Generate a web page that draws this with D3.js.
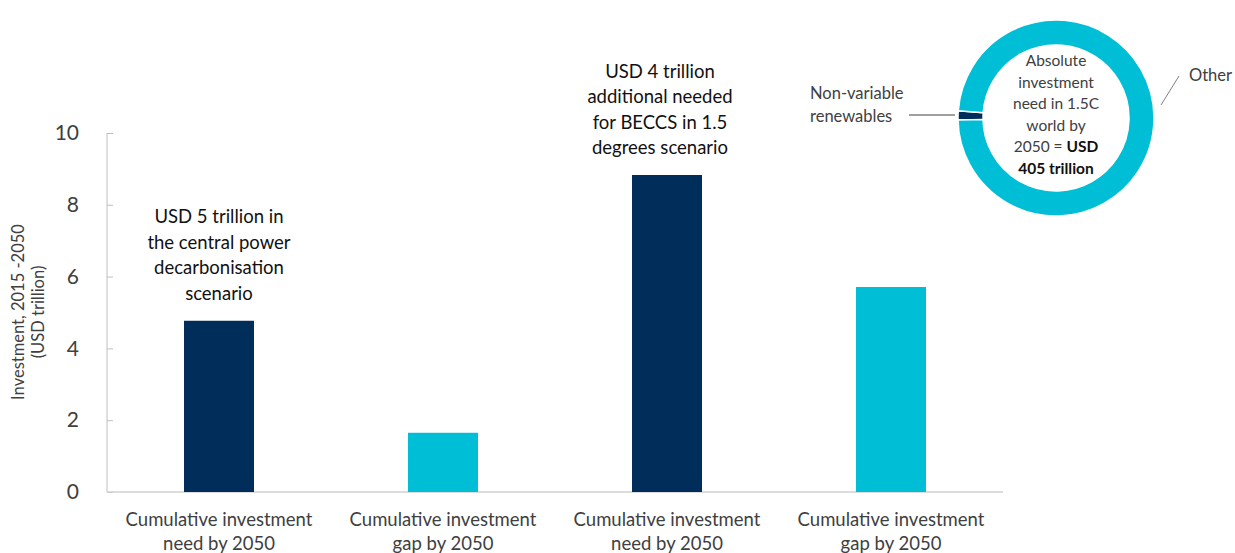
<!DOCTYPE html>
<html>
<head>
<meta charset="utf-8">
<script src="https://cdn.jsdelivr.net/npm/d3@7"></script>
<style>
  body { margin: 0; background: #fff; }
  text { font-family: Lato, "Liberation Sans", sans-serif; }
</style>
</head>
<body>
<svg id="chart" width="1235" height="553"></svg>
<script>
// ----- data -----
const categories = ["need1", "gap1", "need2", "gap2"];
const categoryLabels = [
  ["Cumulative investment", "need by 2050"],
  ["Cumulative investment", "gap by 2050"],
  ["Cumulative investment", "need by 2050"],
  ["Cumulative investment", "gap by 2050"]
];
const values = [4.77, 1.65, 8.83, 5.71];
const barColors = ["#002d5a", "#00bed6", "#002d5a", "#00bed6"];
const yTicks = [0, 2, 4, 6, 8, 10];

const annotations = [
  { cat: "need1", dx: 0, lines: ["USD 5 trillion in", "the central power", "decarbonisation", "scenario"] },
  { cat: "need2", dx: -7, lines: ["USD 4 trillion", "additional needed", "for BECCS in 1.5", "degrees scenario"] }
];

const pieNames = ["Non-variable renewables", "Other"];
const pieValues = [6, 399];
const pieColors = ["#002d5a", "#00bed6"];

const svg = d3.select("#chart");
const margin = { top: 133, left: 107, right: 232, bottom: 61 };
const width = +svg.attr("width");
const height = +svg.attr("height");
const plotW = width - margin.left - margin.right;
const plotH = height - margin.top - margin.bottom;

const g = svg.append("g").attr("transform", `translate(${margin.left},${margin.top})`);

const x = d3.scaleBand().domain(categories).range([0, plotW]).paddingInner(0.6875).paddingOuter(0.34375);
const y = d3.scaleLinear().domain([0, 10]).range([plotH, 0]);

// y axis
const yAxis = g.append("g")
  .call(d3.axisLeft(y).tickValues(yTicks).tickSize(-6).tickPadding(28));
yAxis.select(".domain").attr("stroke", "#bfbfbf").attr("d", `M0,${plotH}V0`);
yAxis.selectAll(".tick line").attr("stroke", "#bfbfbf");
yAxis.selectAll(".tick text")
  .attr("fill", "#404040")
  .style("font-size", "21px")
  .attr("font-family", "Lato, sans-serif");

// x axis line
g.append("line")
  .attr("x1", 0).attr("x2", plotW)
  .attr("y1", y(0)).attr("y2", y(0))
  .attr("stroke", "#d0d0d0").attr("stroke-width", 1.5);

// bars
g.selectAll("rect.bar").data(values)
  .join("rect")
  .attr("class", "bar")
  .attr("x", (d, i) => x(categories[i]))
  .attr("y", d => y(d))
  .attr("width", x.bandwidth())
  .attr("height", d => y(0) - y(d))
  .attr("fill", (d, i) => barColors[i]);

// x labels
categoryLabels.forEach((lines, i) => {
  const cx = x(categories[i]) + x.bandwidth() / 2;
  lines.forEach((l, j) => {
    g.append("text")
      .attr("x", cx)
      .attr("y", plotH + 34 + j * 24)
      .attr("text-anchor", "middle")
      .attr("fill", "#404040")
      .style("font-size", "18.5px")
      .text(l);
  });
});

// annotations above bars
annotations.forEach(a => {
  const i = categories.indexOf(a.cat);
  const cx = x(a.cat) + x.bandwidth() / 2 + a.dx;
  const top = y(values[i]);
  const n = a.lines.length;
  a.lines.forEach((l, j) => {
    g.append("text")
      .attr("x", cx)
      .attr("y", top - 21 - (n - 1 - j) * 25.5)
      .attr("text-anchor", "middle")
      .attr("fill", "#111")
      .style("font-size", "18.5px")
      .text(l);
  });
});

// y axis title
const yt = svg.append("text")
  .attr("transform", `translate(24,312) rotate(-90)`)
  .attr("text-anchor", "middle")
  .attr("fill", "#404040")
  .style("font-size", "16.5px");
yt.append("tspan").attr("x", 0).attr("dy", 0).text("Investment, 2015 -2050");
yt.append("tspan").attr("x", 0).attr("dy", 20).text("(USD trillion)");

// ----- donut -----
const cx0 = 1056, cy0 = 118;
const outerR = 98, innerR = 73;
const pie = d3.pie().sort(null)
  .startAngle(1.5 * Math.PI - 0.02)
  .endAngle(3.5 * Math.PI - 0.02);
const arc = d3.arc().innerRadius(innerR).outerRadius(outerR);
const donut = svg.append("g").attr("transform", `translate(${cx0},${cy0})`);
donut.selectAll("path").data(pie(pieValues))
  .join("path")
  .attr("d", arc)
  .attr("fill", (d, i) => pieColors[i])
  .attr("stroke", "#fff")
  .attr("stroke-width", 1.5);

// donut centre text
const centreLines = [
  [["Absolute", false]],
  [["investment", false]],
  [["need in 1.5C", false]],
  [["world by", false]],
  [["2050 = ", false], ["USD", true]],
  [["405 trillion", true]]
];
centreLines.forEach((parts, j) => {
  const t = donut.append("text")
    .attr("x", 0)
    .attr("y", -52 + j * 21.5)
    .attr("text-anchor", "middle")
    .attr("fill", "#404040")
    .style("font-size", "15.5px");
  parts.forEach(p => {
    t.append("tspan")
      .attr("font-weight", p[1] ? "bold" : "normal")
      .attr("fill", p[1] ? "#111" : "#404040")
      .text(p[0]);
  });
});

// donut labels
const nvLabel = svg.append("text")
  .attr("x", 810).attr("y", 99)
  .attr("fill", "#404040")
  .style("font-size", "16.5px");
nvLabel.append("tspan").attr("x", 810).attr("dy", 0).text("Non-variable");
nvLabel.append("tspan").attr("x", 810).attr("dy", 23).text("renewables");
svg.append("line")
  .attr("x1", 909).attr("x2", 955)
  .attr("y1", 115).attr("y2", 115)
  .attr("stroke", "#404040").attr("stroke-width", 1);

svg.append("text")
  .attr("x", 1189).attr("y", 81)
  .attr("fill", "#404040")
  .style("font-size", "16.5px")
  .text(pieNames[1]);
svg.append("line")
  .attr("x1", 1161).attr("y1", 105)
  .attr("x2", 1179).attr("y2", 76)
  .attr("stroke", "#808080").attr("stroke-width", 1);
</script>
</body>
</html>
